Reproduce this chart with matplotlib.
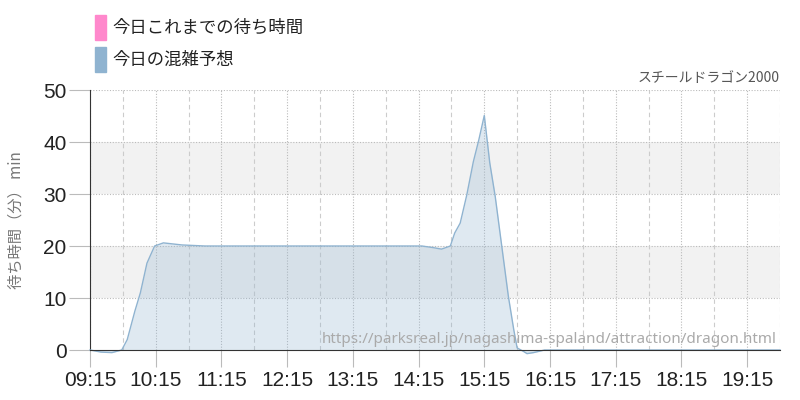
import numpy as np
import matplotlib
matplotlib.use("Agg")
from matplotlib import pyplot as plt
from matplotlib.patches import Rectangle

plt.rcParams['font.family'] = ['Noto Sans CJK JP', 'DejaVu Sans']

# forecast (今日の混雑予想), wait time in minutes
times = ["09:15", "09:25", "09:35", "09:44", "09:49", "09:56", "10:01", "10:07",
         "10:14", "10:22", "10:39", "11:00", "12:00", "13:00", "14:00", "14:18",
         "14:28", "14:36", "14:44", "14:48", "14:53", "14:59", "15:05", "15:10",
         "15:15", "15:20", "15:25", "15:31", "15:37", "15:42", "15:45", "15:51",
         "15:54", "16:00", "16:10", "17:00", "18:00", "19:00", "19:45"]
waits = [0, -0.4, -0.5, 0, 2, 7.5, 11, 16.7,
         20, 20.6, 20.2, 20, 20, 20, 20, 20,
         19.7, 19.4, 20, 22.5, 24.4, 29.8, 36.2, 40.4,
         45.1, 36, 29.5, 19.9, 10.3, 3.8, 0.4, -0.3,
         -0.7, -0.5, 0, 0, 0, 0, 0]

tick_labels = ["09:15", "10:15", "11:15", "12:15", "13:15", "14:15",
               "15:15", "16:15", "17:15", "18:15", "19:15"]
y_ticks = [0, 10, 20, 30, 40, 50]

legend_labels = ["今日これまでの待ち時間", "今日の混雑予想"]
legend_colors = ["#ff88cc", "#8fb3d0"]
title = "スチールドラゴン2000"
url = "https://parksreal.jp/nagashima-spaland/attraction/dragon.html"


def to_min(s):
    h, m = s.split(":")
    return int(h) * 60 + int(m) - (9 * 60 + 15)


x = np.array([to_min(t) for t in times])
y = np.array(waits)
xt = [to_min(t) for t in tick_labels]

fig = plt.figure(figsize=(8, 4), dpi=100)
ax = fig.add_axes([0.1125, 0.125, 0.8625, 0.65])

# alternating bands
for lo in (10, 30):
    ax.axhspan(lo, lo + 10, color="#f2f2f2", zorder=0, lw=0)

ax.set_xlim(0, 630)
ax.set_ylim(0, 50)

for v in y_ticks[1:]:
    ax.axhline(v, color="#bbbbbb", lw=0.8, ls=(0, (1, 1.5)), zorder=1)
for v in xt:
    ax.axvline(v, color="#bbbbbb", lw=0.8, ls=(0, (1, 1.5)), zorder=1)
for v in np.arange(30, 631, 60):
    ax.axvline(v, color="#cccccc", lw=0.8, ls=(0, (4, 3)), zorder=1)

ax.fill_between(x, y, 0, color="#8fb3d0", alpha=0.28, lw=0, zorder=2, clip_on=False)
ax.plot(x, y, color="#8fb3d0", lw=1, zorder=3, clip_on=False)

ax.set_xticks(xt)
ax.set_xticklabels(tick_labels)
ax.set_yticks(y_ticks)
ax.tick_params(axis="both", colors="#bbbbbb", labelcolor="#222222", labelsize=15)
ax.tick_params(axis="y", length=15, pad=2)
ax.tick_params(axis="x", length=12, pad=3)
for lab in ax.get_xticklabels() + ax.get_yticklabels():
    lab.set_family(["Liberation Sans", "DejaVu Sans"])

for s in ("top", "right"):
    ax.spines[s].set_visible(False)
ax.spines["left"].set_color("#333333")
ax.spines["bottom"].set_color("#333333")
ax.spines["bottom"].set_zorder(4)

ax.set_ylabel("待ち時間（分） min", color="#777777", fontsize=11, labelpad=13)

ax.text(1.0, 1.02, title, transform=ax.transAxes, ha="right", va="bottom",
        fontsize=10, color="#555555")
ax.text(0.995, 0.012, url, transform=ax.transAxes, ha="right", va="bottom",
        fontsize=11, color="#aaaaaa", family=["Noto Sans", "DejaVu Sans"], zorder=5)

# legend
for i, (lab, col) in enumerate(zip(legend_labels, legend_colors)):
    yy = 0.9 - i * 0.08
    fig.patches.append(Rectangle((0.119, yy), 0.013, 0.063, color=col,
                                 transform=fig.transFigure, figure=fig))
    fig.text(0.14, yy + 0.031, lab, fontsize=12.5, va="center", color="#222222")

fig.savefig("out.png", dpi=100)
